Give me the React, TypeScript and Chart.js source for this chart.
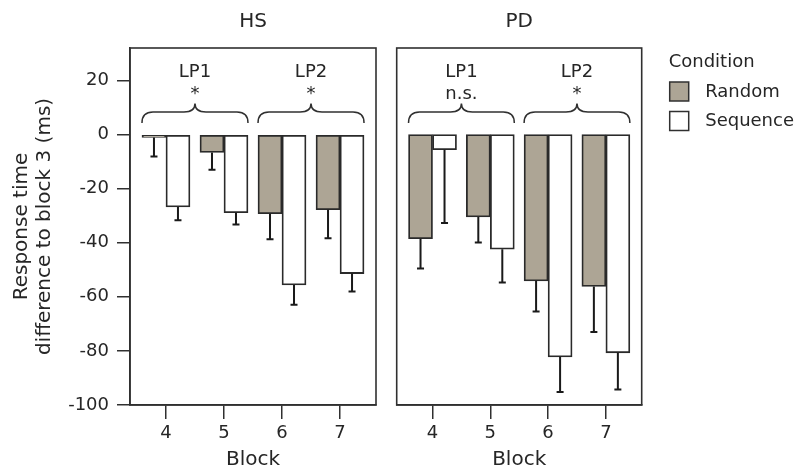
import React, { useEffect, useRef } from "react";
import { Chart, registerables } from "chart.js";

Chart.register(...registerables);

// ---- data ----
const blocks = [4, 5, 6, 7];
const conditions = ["Random", "Sequence"];
const hsRandom = [-1.1, -6.6, -29.3, -27.8];
const hsRandomErr = [7.0, 6.4, 9.4, 10.5];
const hsSequence = [-26.8, -28.9, -55.6, -51.4];
const hsSequenceErr = [4.9, 4.4, 7.3, 6.6];
const pdRandom = [-38.5, -30.5, -54.1, -56.2];
const pdRandomErr = [11.0, 9.4, 11.3, 16.8];
const pdSequence = [-5.6, -42.4, -82.2, -80.7];
const pdSequenceErr = [27.1, 12.3, 13.0, 13.6];
const yTickValues = [20, 0, -20, -40, -60, -80, -100];
const braceLabels = ["LP1", "LP2"];
const braceFirstBlock = [4, 6];
const braceLastBlock = [5, 7];
const hsSignificance = ["*", "*"];
const pdSignificance = ["n.s.", "*"];

// ---- style ----
const FONT = "'DejaVu Sans', sans-serif";
const TEXT = "#262626";
const LINE = "#303030";
const FILLS = ["#ADA595", "#FFFFFF"];
const FS = 18;
const FS_TITLE = 20;

const errorBarPlugin = {
  id: "errorBars",
  afterDatasetsDraw(chart: any) {
    const ctx = chart.ctx;
    const ys = chart.scales.y;
    chart.data.datasets.forEach((ds: any, i: number) => {
      const meta = chart.getDatasetMeta(i);
      meta.data.forEach((bar: any, j: number) => {
        const v = ds.data[j].y;
        const e = ds.errors[j];
        const y1 = ys.getPixelForValue(v);
        const y2 = ys.getPixelForValue(v - e);
        ctx.save();
        ctx.strokeStyle = "#1a1a1a";
        ctx.lineWidth = 2;
        ctx.beginPath();
        ctx.moveTo(bar.x, y1);
        ctx.lineTo(bar.x, y2);
        ctx.moveTo(bar.x - 3.5, y2);
        ctx.lineTo(bar.x + 3.5, y2);
        ctx.stroke();
        ctx.restore();
      });
    });
  },
};

const boxPlugin = {
  id: "box",
  afterDatasetsDraw(chart: any) {
    const { left, top, right, bottom } = chart.chartArea;
    const ctx = chart.ctx;
    ctx.save();
    ctx.strokeStyle = LINE;
    ctx.lineWidth = 1.6;
    ctx.strokeRect(left, top, right - left, bottom - top);
    ctx.restore();
  },
};

const makeBracePlugin = (sig: string[]) => ({
  id: "braces",
  afterDatasetsDraw(chart: any) {
    const ctx = chart.ctx;
    const ys = chart.scales.y;
    const zero = ys.getPixelForValue(0);
    const m0 = chart.getDatasetMeta(0);
    const m1 = chart.getDatasetMeta(1);
    braceLabels.forEach((lab, k) => {
      const b0 = m0.data[blocks.indexOf(braceFirstBlock[k])];
      const b1 = m1.data[blocks.indexOf(braceLastBlock[k])];
      const x0 = b0.x - b0.width / 2;
      const x1 = b1.x + b1.width / 2;
      const xc = (x0 + x1) / 2;
      const yEnd = zero - 11.5;
      const yFlat = zero - 22.5;
      const yTip = zero - 31;
      const r = 11;
      ctx.save();
      ctx.strokeStyle = LINE;
      ctx.lineWidth = 1.5;
      ctx.beginPath();
      ctx.moveTo(x0, yEnd);
      ctx.quadraticCurveTo(x0, yFlat, x0 + r, yFlat);
      ctx.lineTo(xc - r, yFlat);
      ctx.quadraticCurveTo(xc, yFlat, xc, yTip);
      ctx.quadraticCurveTo(xc, yFlat, xc + r, yFlat);
      ctx.lineTo(x1 - r, yFlat);
      ctx.quadraticCurveTo(x1, yFlat, x1, yEnd);
      ctx.stroke();
      ctx.fillStyle = TEXT;
      ctx.font = `${FS}px ${FONT}`;
      ctx.textAlign = "center";
      ctx.textBaseline = "alphabetic";
      ctx.fillText(lab, xc, zero - 58);
      ctx.fillText(sig[k], xc, zero - 36);
      ctx.restore();
    });
  },
});

const legendPlugin = {
  id: "condLegend",
  afterDraw(chart: any) {
    const ctx = chart.ctx;
    const { right, top } = chart.chartArea;
    ctx.save();
    ctx.fillStyle = TEXT;
    ctx.font = `${FS}px ${FONT}`;
    ctx.textAlign = "left";
    ctx.textBaseline = "middle";
    ctx.fillText("Condition", right + 27, top + 14);
    conditions.forEach((c, i) => {
      const sy = top + 34 + i * 29.5;
      ctx.fillStyle = FILLS[i];
      ctx.fillRect(right + 28, sy, 19, 19);
      ctx.strokeStyle = LINE;
      ctx.lineWidth = 1.5;
      ctx.strokeRect(right + 28, sy, 19, 19);
      ctx.fillStyle = TEXT;
      ctx.fillText(c, right + 63.5, sy + 10);
    });
    ctx.restore();
  },
};

function makeConfig(
  title: string,
  rnd: number[],
  rndErr: number[],
  seq: number[],
  seqErr: number[],
  sig: string[],
  isLeft: boolean
): any {
  const font = { family: FONT, size: FS };
  const titleFont = { family: FONT, size: FS_TITLE };
  const plugins: any[] = [errorBarPlugin, boxPlugin, makeBracePlugin(sig)];
  if (!isLeft) plugins.push(legendPlugin);
  return {
    type: "bar",
    data: {
      datasets: [
        {
          label: conditions[0],
          data: blocks.map((b, i) => ({ x: b, y: rnd[i] })),
          errors: rndErr,
          backgroundColor: FILLS[0],
          borderColor: "#2a2a2a",
          borderWidth: 1.8,
          borderSkipped: false,
          barThickness: 24,
        },
        {
          label: conditions[1],
          data: blocks.map((b, i) => ({ x: b, y: seq[i] })),
          errors: seqErr,
          backgroundColor: FILLS[1],
          borderColor: "#2a2a2a",
          borderWidth: 1.8,
          borderSkipped: false,
          barThickness: 24,
        },
      ],
    },
    options: {
      animation: false,
      responsive: false,
      maintainAspectRatio: false,
      layout: {
        padding: isLeft
          ? { left: 0, right: 9, top: 0, bottom: 0 }
          : { left: 11.7, right: 155.3, top: 0, bottom: 0 },
      },
      plugins: {
        legend: { display: false },
        tooltip: { enabled: false },
        title: {
          display: true,
          text: title,
          fullSize: false,
          color: TEXT,
          font: { family: FONT, size: FS_TITLE, weight: "normal", lineHeight: 1.2 },
          padding: { top: 10, bottom: 14 },
        },
      },
      scales: {
        x: {
          type: "linear",
          min: 3.38,
          max: 7.62,
          offset: false,
          afterBuildTicks: (s: any) => {
            s.ticks = blocks.map((v) => ({ value: v }));
          },
          afterFit: (s: any) => {
            s.height = 68;
          },
          grid: {
            offset: false,
            drawOnChartArea: false,
            drawTicks: true,
            tickLength: 14,
            color: LINE,
            lineWidth: 1.5,
          },
          border: { display: true, color: LINE, width: 1.6 },
          ticks: { font, color: TEXT, padding: 4, maxRotation: 0 },
          title: {
            display: true,
            text: "Block",
            font: { ...titleFont, lineHeight: 1.2 },
            color: TEXT,
            padding: { top: 0, bottom: 1 },
          },
        },
        y: {
          display: isLeft,
          min: -100,
          max: 32,
          afterBuildTicks: (s: any) => {
            s.ticks = yTickValues.map((v) => ({ value: v }));
          },
          afterFit: (s: any) => {
            s.width = isLeft ? 130 : 0;
          },
          grid: {
            drawOnChartArea: false,
            drawTicks: true,
            tickLength: 13,
            color: LINE,
            lineWidth: 1.5,
          },
          border: { display: true, color: LINE, width: 1.6 },
          ticks: { font, color: TEXT, padding: 8 },
          title: {
            display: true,
            text: ["Response time", "difference to block 3 (ms)"],
            font: { ...titleFont, lineHeight: 1.13 },
            color: TEXT,
            padding: { top: 10.6, bottom: 0 },
          },
        },
      },
    },
    plugins,
  };
}

export default function App() {
  const leftRef = useRef<HTMLCanvasElement>(null);
  const rightRef = useRef<HTMLCanvasElement>(null);

  useEffect(() => {
    const c1 = new Chart(
      leftRef.current as HTMLCanvasElement,
      makeConfig("HS", hsRandom, hsRandomErr, hsSequence, hsSequenceErr, hsSignificance, true)
    );
    const c2 = new Chart(
      rightRef.current as HTMLCanvasElement,
      makeConfig("PD", pdRandom, pdRandomErr, pdSequence, pdSequenceErr, pdSignificance, false)
    );
    return () => {
      c1.destroy();
      c2.destroy();
    };
  }, []);

  return (
    <div
      style={{
        position: "fixed",
        left: 0,
        top: 0,
        width: 797,
        height: 473,
        background: "#fff",
        overflow: "hidden",
      }}
    >
      <canvas
        ref={leftRef}
        width={385}
        height={473}
        style={{ position: "absolute", left: 0, top: 0, width: 385, height: 473 }}
      />
      <canvas
        ref={rightRef}
        width={412}
        height={473}
        style={{ position: "absolute", left: 385, top: 0, width: 412, height: 473 }}
      />
    </div>
  );
}
